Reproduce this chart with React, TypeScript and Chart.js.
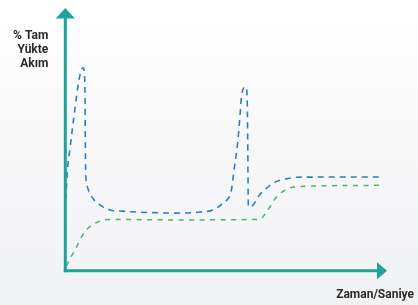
import React, { useEffect, useRef } from "react";
import { Chart, registerables } from "chart.js";

Chart.register(...registerables);

// Time axis (arbitrary units 0..100) and current (% of full-load current, 0..100)
const blueTime = [0, 0.31, 0.72, 1.56, 2.59, 3.66, 4.47, 5.22, 5.72, 6.03, 6.25, 6.34, 6.47, 6.97, 8.34, 10.9, 14.1, 17.2, 22.8, 34.4, 42.2, 46.3, 49.1, 50.6, 51.9, 52.9, 54.0, 54.7, 55.2, 56.5, 56.9, 57.1, 57.3, 58.8, 60.4, 63.0, 65.6, 68.8, 72.9, 99.4];
const blueCurrent = [27.1, 29.0, 37.9, 46.9, 57.0, 67.2, 73.5, 77.1, 77.6, 75.5, 67.2, 50.8, 37.9, 32.2, 28.4, 25.2, 23.3, 22.9, 22.5, 22.1, 22.5, 23.3, 25.6, 27.1, 30.3, 39.2, 49.4, 59.5, 67.2, 70.3, 67.2, 49.4, 24.5, 25.2, 28.4, 31.6, 33.9, 35.1, 35.8, 35.9];

const greenTime = [0.47, 1.03, 3.13, 5.22, 7.28, 10.4, 13.5, 34.4, 60.9, 63.0, 66.2, 69.3, 72.4, 99.4];
const greenCurrent = [1.9, 3.5, 8.0, 13.1, 16.4, 18.8, 19.7, 19.5, 19.7, 22.6, 28.4, 31.2, 32.2, 32.7];

const yLabelLines = ["% Tam", "Yükte", "Akım"];
const xLabel = "Zaman/Saniye";

const AXIS_COLOR = "#1fa29a";
const TEXT_COLOR = "#2b2b2b";
const FONT = "bold 12px Roboto, 'Open Sans', sans-serif";

const toPoints = (xs: number[], ys: number[]) => xs.map((x, i) => ({ x, y: ys[i] }));

const axesPlugin = {
  id: "arrowAxes",
  afterDraw(chart: any) {
    const { ctx, chartArea } = chart;
    const left = chartArea.left + 0.3;
    const bottom = chartArea.bottom - 0.3;
    ctx.save();
    ctx.strokeStyle = AXIS_COLOR;
    ctx.fillStyle = AXIS_COLOR;
    ctx.lineWidth = 3;
    // y axis
    ctx.beginPath();
    ctx.moveTo(left, bottom + 1.5);
    ctx.lineTo(left, chartArea.top + 9);
    ctx.stroke();
    ctx.beginPath();
    ctx.moveTo(left - 9.5, chartArea.top + 9.5);
    ctx.lineTo(left + 9.5, chartArea.top + 9.5);
    ctx.lineTo(left, chartArea.top - 1);
    ctx.closePath();
    ctx.fill();
    // x axis
    ctx.beginPath();
    ctx.moveTo(left - 1.5, bottom);
    ctx.lineTo(chartArea.right - 7, bottom);
    ctx.stroke();
    ctx.beginPath();
    ctx.moveTo(chartArea.right - 8, bottom - 8.5);
    ctx.lineTo(chartArea.right - 8, bottom + 8.5);
    ctx.lineTo(chartArea.right + 2, bottom);
    ctx.closePath();
    ctx.fill();

    // labels
    ctx.fillStyle = TEXT_COLOR;
    ctx.font = FONT;
    ctx.textAlign = "right";
    ctx.textBaseline = "alphabetic";
    yLabelLines.forEach((line, i) => {
      ctx.fillText(line, left - 17, chartArea.top + 30 + i * 14);
    });
    ctx.fillText(xLabel, chart.width - 4, chart.height - 7);
    ctx.restore();
  },
};

export default function App() {
  const canvasRef = useRef<HTMLCanvasElement | null>(null);

  useEffect(() => {
    if (!canvasRef.current) return;
    const chart = new Chart(canvasRef.current, {
      type: "line",
      data: {
        datasets: [
          {
            label: "blue",
            data: toPoints(blueTime, blueCurrent),
            borderColor: "#2a7dc5",
            borderWidth: 1.6,
            borderDash: [6, 5],
            pointRadius: 0,
            cubicInterpolationMode: "monotone",
            fill: false,
          },
          {
            label: "green",
            data: toPoints(greenTime, greenCurrent),
            borderColor: "#45b86a",
            borderWidth: 1.5,
            borderDash: [5, 5.5],
            pointRadius: 0,
            cubicInterpolationMode: "monotone",
            fill: false,
          },
        ],
      },
      options: {
        animation: false,
        responsive: false,
        maintainAspectRatio: false,
        layout: { padding: { left: 65, top: 9, right: 33, bottom: 34 } },
        plugins: { legend: { display: false }, tooltip: { enabled: false } },
        scales: {
          x: { type: "linear", min: 0, max: 100, display: false },
          y: { type: "linear", min: 0, max: 100, display: false },
        },
      },
      plugins: [axesPlugin],
    });
    return () => chart.destroy();
  }, []);

  return (
    <div
      style={{
        position: "absolute",
        left: 0,
        top: 0,
        width: 418,
        height: 305,
        background: "linear-gradient(to bottom, #ffffff 0%, #f9f9fa 40%, #f1f2f4 100%)",
      }}
    >
      <canvas ref={canvasRef} width={418} height={305} style={{ display: "block" }} />
    </div>
  );
}
